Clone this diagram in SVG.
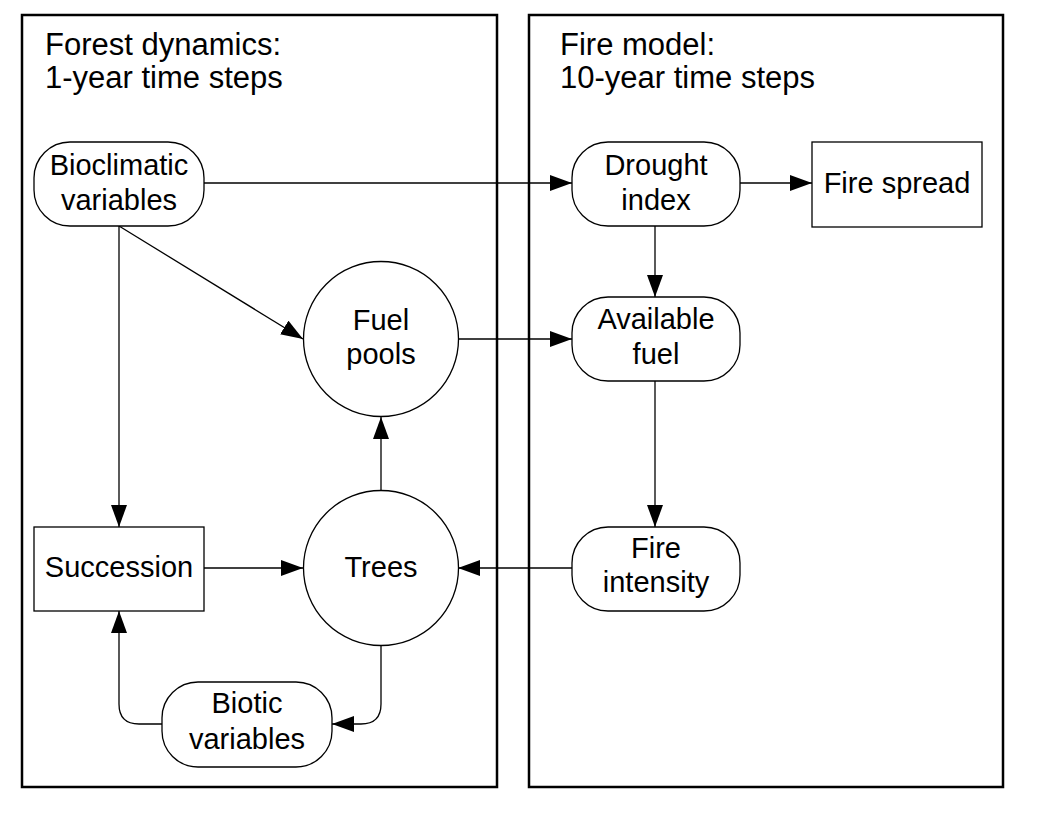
<svg xmlns="http://www.w3.org/2000/svg" width="1045" height="815" viewBox="0 0 1045 815">
  <style>
    .panel { fill: none; stroke: #000; stroke-width: 2.5; }
    .node { fill: #fff; stroke: #000; stroke-width: 1.3; }
    .title { font-family: "Liberation Sans", Arial, sans-serif; font-size: 31px; fill: #000; }
    .label { font-family: "Liberation Sans", Arial, sans-serif; font-size: 29px; fill: #000; text-anchor: middle; }
    .edge { fill: none; stroke: #000; stroke-width: 1.3; marker-end: url(#arrow); }
  </style>
  <defs>
    <marker id="arrow" viewBox="0 0 22 16" refX="22" refY="8" markerWidth="22" markerHeight="16" markerUnits="userSpaceOnUse" orient="auto">
      <path d="M0,0 L22,8 L0,16 Z" fill="#000"/>
    </marker>
  </defs>
  <rect width="1045" height="815" fill="#fff"/>

  <g id="panel-forest">
    <rect class="panel" x="22" y="15" width="475" height="772"/>
    <text class="title" x="45" y="55">Forest dynamics:</text>
    <text class="title" x="45" y="88">1-year time steps</text>
  </g>
  <g id="panel-fire">
    <rect class="panel" x="529" y="15" width="474" height="772"/>
    <text class="title" x="560" y="55">Fire model:</text>
    <text class="title" x="560" y="88">10-year time steps</text>
  </g>

  <g id="connectors">
    <line class="edge" x1="204" y1="183" x2="572" y2="183"/>
    <line class="edge" x1="740" y1="183" x2="812" y2="183"/>
    <line class="edge" x1="655" y1="226" x2="655" y2="297"/>
    <line class="edge" x1="458" y1="339" x2="572" y2="339"/>
    <line class="edge" x1="655" y1="381" x2="655" y2="527"/>
    <line class="edge" x1="572" y1="568" x2="458" y2="568"/>
    <line class="edge" x1="119" y1="226" x2="119" y2="527"/>
    <line class="edge" x1="119" y1="226" x2="303" y2="339"/>
    <line class="edge" x1="204" y1="568" x2="303" y2="568"/>
    <line class="edge" x1="381" y1="490" x2="381" y2="417"/>
    <path class="edge" d="M381,646 L381,704 Q381,724 361,724 L332,724"/>
    <path class="edge" d="M162,724 L139,724 Q119,724 119,704 L119,611"/>
  </g>

  <g id="bioclimatic">
    <rect class="node" x="34" y="142" width="170" height="84" rx="36" ry="36"/>
    <text class="label" x="119" y="175">Bioclimatic</text>
    <text class="label" x="119" y="210">variables</text>
  </g>
  <g id="drought">
    <rect class="node" x="572" y="142" width="168" height="84" rx="36" ry="36"/>
    <text class="label" x="656" y="175">Drought</text>
    <text class="label" x="656" y="210">index</text>
  </g>
  <g id="fire-spread">
    <rect class="node" x="812" y="142" width="170" height="85"/>
    <text class="label" x="897" y="193">Fire spread</text>
  </g>
  <g id="fuel-pools">
    <circle class="node" cx="381" cy="339" r="77.5"/>
    <text class="label" x="381" y="330">Fuel</text>
    <text class="label" x="381" y="364">pools</text>
  </g>
  <g id="available-fuel">
    <rect class="node" x="572" y="297" width="168" height="84" rx="36" ry="36"/>
    <text class="label" x="656" y="329">Available</text>
    <text class="label" x="656" y="364">fuel</text>
  </g>
  <g id="succession">
    <rect class="node" x="34" y="527" width="170" height="84"/>
    <text class="label" x="119" y="577">Succession</text>
  </g>
  <g id="trees">
    <circle class="node" cx="381" cy="568" r="77.5"/>
    <text class="label" x="381" y="577">Trees</text>
  </g>
  <g id="fire-intensity">
    <rect class="node" x="572" y="527" width="168" height="84" rx="36" ry="36"/>
    <text class="label" x="656" y="558">Fire</text>
    <text class="label" x="656" y="592">intensity</text>
  </g>
  <g id="biotic">
    <rect class="node" x="162" y="682" width="170" height="85" rx="36" ry="36"/>
    <text class="label" x="247" y="713">Biotic</text>
    <text class="label" x="247" y="749">variables</text>
  </g>
</svg>
